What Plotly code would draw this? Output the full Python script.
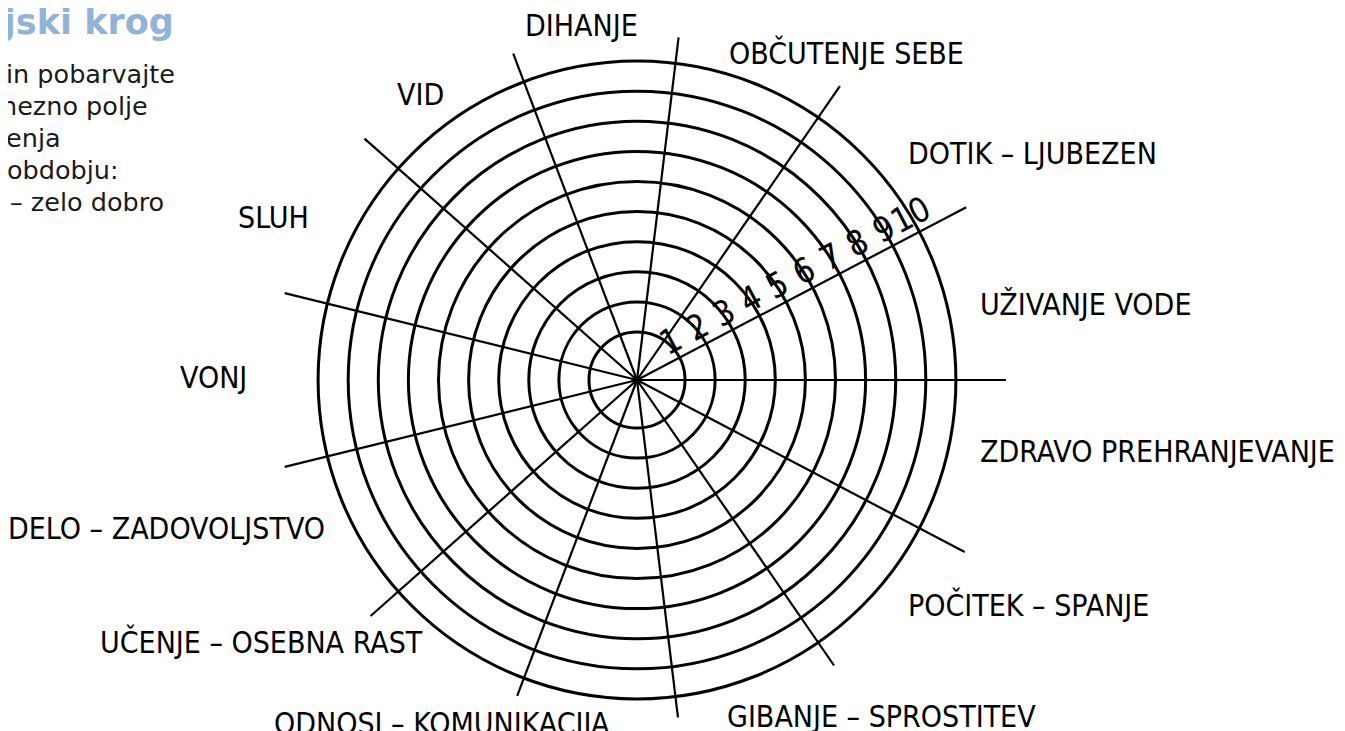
import plotly.graph_objects as go

W, H = 1345, 760
OFF = 8   # page offset of the figure inside the browser window
PAD = 3   # annotation inner padding

# ---------------- data ----------------
# sectors, counter-clockwise starting at 3 o'clock
categories = [
    "UŽIVANJE VODE", "DOTIK – LJUBEZEN", "OBČUTENJE SEBE", "DIHANJE", "VID",
    "SLUH", "VONJ", "DELO – ZADOVOLJSTVO", "UČENJE – OSEBNA RAST",
    "ODNOSI – KOMUNIKACIJA", "GIBANJE – SPROSTITEV", "POČITEK – SPANJE",
    "ZDRAVO PREHRANJEVANJE",
]
levels = [1, 2, 3, 4, 5, 6, 7, 8, 9, 10]
level_labels = [str(v) for v in levels]

title_text = "Življenjski krog"
instruction_lines = ["in pobarvajte", "nezno polje", "jenja", "obdobju:", "– zelo dobro"]

# ---------------- layout / style ----------------
n = len(categories)
step = 360.0 / n
boundaries = [i * step for i in range(n)]

PX_PER_UNIT = 30.1
R0 = -0.595                     # radial value at the centre
R_PX = 372                      # radius of polar area in px
RMAX = R0 + R_PX / PX_PER_UNIT
CX, CY = 637, 380               # centre in window pixels
ray_extent = [11.66, 11.76, 11.27, 10.87, 11.0, 11.5, 11.46, 11.46,
              11.23, 10.63, 10.7, 10.93, 11.70]

LABEL_FONT = "DejaVu Sans Condensed"


def fx(px):
    return (px - OFF) / W


def fy(py):
    return 1 - (py - OFF) / H


# label anchor pixels (left x, centre y)
label_pos = [
    (981, 304), (909, 153), (730, 53), (526, 26),
    (398, 94), (239, 217), (181, 377), (9, 528),
    (101, 642), (275, 723), (728, 716), (909, 605),
    (981, 451),
]

fig = go.Figure()

r, th = [], []
for a, L in zip(boundaries, ray_extent):
    r += [R0, L, None]
    th += [a, a, None]
fig.add_trace(go.Scatterpolar(
    r=r, theta=th, mode="lines",
    line=dict(color="black", width=2.2), hoverinfo="skip", showlegend=False,
))

annotations = []
for name, (px, py) in zip(categories, label_pos):
    annotations.append(dict(
        text=name, x=fx(px - PAD), y=fy(py), xref="paper", yref="paper",
        xanchor="left", yanchor="middle", showarrow=False,
        font=dict(family=LABEL_FONT, size=30, color="black"),
    ))

annotations.append(dict(
    text="<b>" + title_text + "</b>", x=fx(173 + PAD), y=fy(22), xref="paper", yref="paper",
    xanchor="right", yanchor="middle", showarrow=False,
    font=dict(family="DejaVu Sans", size=35, color="#8fb3d9"),
))
line_ends = [174, 147, 60, 118, 163]
for i, (txt, xe) in enumerate(zip(instruction_lines, line_ends)):
    annotations.append(dict(
        text=txt, x=fx(xe + PAD), y=fy(74 + 32 * i), xref="paper", yref="paper",
        xanchor="right", yanchor="middle", showarrow=False,
        font=dict(family="DejaVu Sans", size=25.5, color="#1a1a1a"),
    ))

fig.update_layout(
    width=W, height=H, margin=dict(l=0, r=0, t=0, b=0),
    paper_bgcolor="white", plot_bgcolor="white", showlegend=False,
    polar=dict(
        domain=dict(x=[fx(CX - R_PX), fx(CX + R_PX)], y=[fy(CY + R_PX), fy(CY - R_PX)]),
        bgcolor="white",
        radialaxis=dict(
            range=[R0, RMAX], tickvals=levels, ticktext=level_labels,
            angle=step, tickangle=0, side="counterclockwise", showline=False,
            showgrid=True, gridcolor="black", gridwidth=2.6, ticks="",
            tickfont=dict(family=LABEL_FONT, size=34, color="black"),
        ),
        angularaxis=dict(
            rotation=0, direction="counterclockwise", showgrid=False,
            showline=False, showticklabels=False, ticks="",
        ),
    ),
    annotations=annotations,
)

fig.write_html("out.html")
